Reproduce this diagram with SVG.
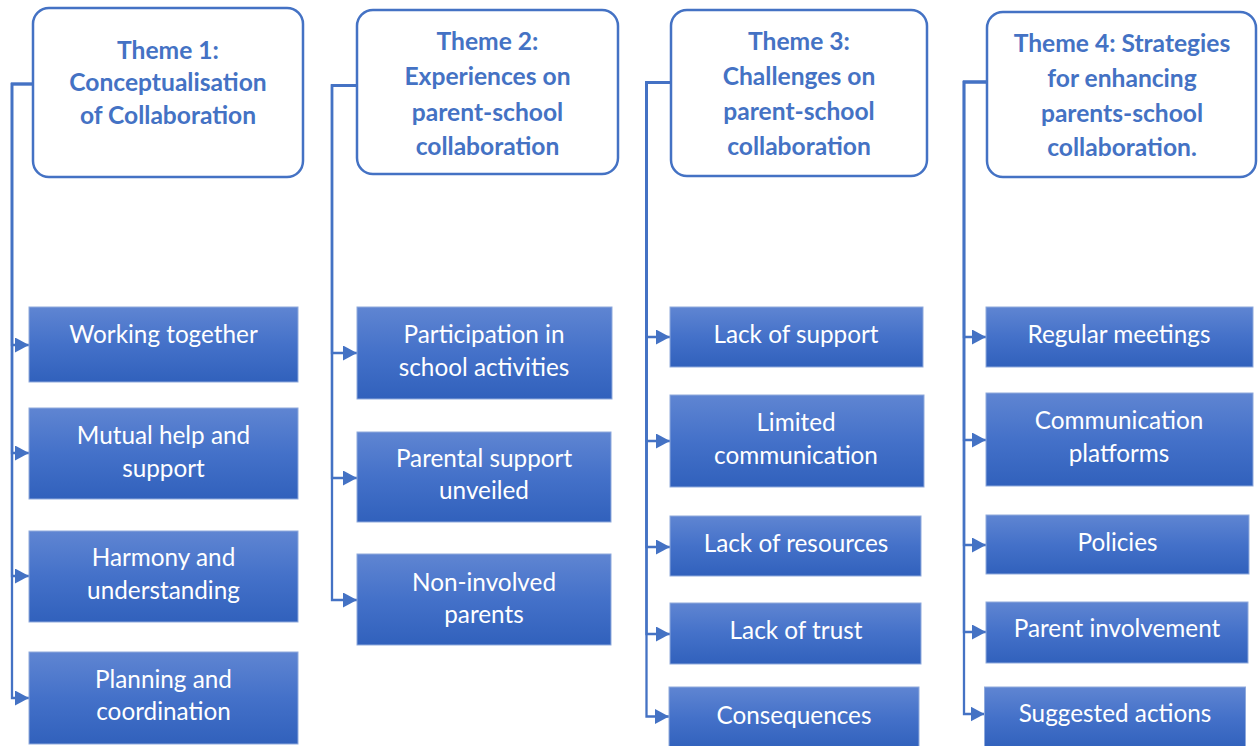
<svg xmlns="http://www.w3.org/2000/svg" width="1258" height="746" viewBox="0 0 1258 746">
  <style>
    .theme rect { fill: #ffffff; stroke: #4472c4; stroke-width: 2.5; }
    .theme text { font-family: Lato, "Liberation Sans", sans-serif; font-weight: bold; font-size: 24.6px; fill: #4472c4; text-anchor: middle; }
    .item rect { fill: url(#itemFill); stroke: #8faadc; stroke-width: 1; }
    .item text { font-family: Lato, "Liberation Sans", sans-serif; font-size: 24.3px; fill: #ffffff; text-anchor: middle; }
    #connectors path { fill: none; stroke: #4472c4; stroke-width: 2.3; marker-end: url(#arrow); }
  </style>
  <defs>
    <linearGradient id="itemFill" x1="0" y1="0" x2="0" y2="1">
      <stop offset="0" stop-color="#5f85d2"/>
      <stop offset="0.5" stop-color="#4471c9"/>
      <stop offset="1" stop-color="#3161bc"/>
    </linearGradient>
    <marker id="arrow" markerUnits="userSpaceOnUse" markerWidth="14" markerHeight="15" refX="14" refY="7.5" orient="auto">
      <path d="M0,0 L14,7.5 L0,15 Z" fill="#4472c4"/>
    </marker>
  </defs>

  <!-- connectors: header -> vertical spine -> each item -->
  <g id="connectors">
    <path d="M33,84 H12 V345 H29"/>
    <path d="M33,84 H12 V453 H29"/>
    <path d="M33,84 H12 V576 H29"/>
    <path d="M33,84 H12 V698 H29"/>

    <path d="M357,85.5 H332 V353 H357"/>
    <path d="M357,85.5 H332 V478 H357"/>
    <path d="M357,85.5 H332 V600 H357"/>

    <path d="M671,82.5 H646.5 V337 H670"/>
    <path d="M671,82.5 H646.5 V441 H670"/>
    <path d="M671,82.5 H646.5 V547 H670"/>
    <path d="M671,82.5 H646.5 V634 H670"/>
    <path d="M671,82.5 H646.5 V716.5 H669"/>

    <path d="M987,82 H964 V337 H986"/>
    <path d="M987,82 H964 V440 H986"/>
    <path d="M987,82 H964 V545 H986"/>
    <path d="M987,82 H964 V632 H986"/>
    <path d="M987,82 H964 V714 H984.5"/>
  </g>

  <!-- theme headers -->
  <g id="theme1" class="theme">
    <rect x="33" y="8" width="270" height="169" rx="16"/>
    <text x="168" y="59">Theme 1:</text>
    <text x="168" y="91">Conceptualisation</text>
    <text x="168" y="124">of Collaboration</text>
  </g>
  <g id="theme2" class="theme">
    <rect x="357" y="10" width="261" height="164" rx="16"/>
    <text x="487.5" y="50">Theme 2:</text>
    <text x="487.5" y="85">Experiences on</text>
    <text x="487.5" y="120.5">parent-school</text>
    <text x="487.5" y="155">collaboration</text>
  </g>
  <g id="theme3" class="theme">
    <rect x="671" y="10" width="256" height="166" rx="16"/>
    <text x="799" y="50">Theme 3:</text>
    <text x="799" y="85">Challenges on</text>
    <text x="799" y="120">parent-school</text>
    <text x="799" y="155">collaboration</text>
  </g>
  <g id="theme4" class="theme">
    <rect x="987" y="12" width="269" height="165" rx="16"/>
    <text x="1122" y="51.5">Theme 4: Strategies</text>
    <text x="1122" y="87">for enhancing</text>
    <text x="1122" y="121.5">parents-school</text>
    <text x="1122" y="156">collaboration.</text>
  </g>

  <!-- Theme 1 items -->
  <g id="t1-working" class="item">
    <rect x="29" y="307" width="269" height="75"/>
    <text x="163.5" y="343">Working together</text>
  </g>
  <g id="t1-mutual" class="item">
    <rect x="29" y="408" width="269" height="91"/>
    <text x="163.5" y="444">Mutual help and</text>
    <text x="163.5" y="476.5">support</text>
  </g>
  <g id="t1-harmony" class="item">
    <rect x="29" y="531" width="269" height="91"/>
    <text x="163.5" y="566">Harmony and</text>
    <text x="163.5" y="598.5">understanding</text>
  </g>
  <g id="t1-planning" class="item">
    <rect x="29" y="652" width="269" height="92"/>
    <text x="163.5" y="688">Planning and</text>
    <text x="163.5" y="720">coordination</text>
  </g>

  <!-- Theme 2 items -->
  <g id="t2-participation" class="item">
    <rect x="357" y="307" width="255" height="92"/>
    <text x="484" y="343">Participation in</text>
    <text x="484" y="376">school activities</text>
  </g>
  <g id="t2-support" class="item">
    <rect x="357" y="432" width="254" height="90"/>
    <text x="484" y="466.5">Parental support</text>
    <text x="484" y="499">unveiled</text>
  </g>
  <g id="t2-noninvolved" class="item">
    <rect x="357" y="554" width="254" height="91"/>
    <text x="484" y="591">Non-involved</text>
    <text x="484" y="623">parents</text>
  </g>

  <!-- Theme 3 items -->
  <g id="t3-support" class="item">
    <rect x="670" y="307" width="253" height="60"/>
    <text x="796" y="342.5">Lack of support</text>
  </g>
  <g id="t3-communication" class="item">
    <rect x="670" y="395" width="254" height="92"/>
    <text x="796" y="430.5">Limited</text>
    <text x="796" y="463.5">communication</text>
  </g>
  <g id="t3-resources" class="item">
    <rect x="670" y="516" width="251" height="60"/>
    <text x="796" y="551.5">Lack of resources</text>
  </g>
  <g id="t3-trust" class="item">
    <rect x="670" y="603" width="251" height="61"/>
    <text x="796" y="638.5">Lack of trust</text>
  </g>
  <g id="t3-consequences" class="item">
    <rect x="669" y="687" width="250" height="62"/>
    <text x="794" y="724">Consequences</text>
  </g>

  <!-- Theme 4 items -->
  <g id="t4-meetings" class="item">
    <rect x="986" y="307" width="267" height="60"/>
    <text x="1119" y="342.5">Regular meetings</text>
  </g>
  <g id="t4-platforms" class="item">
    <rect x="986" y="393" width="267" height="93"/>
    <text x="1119" y="428.5">Communication</text>
    <text x="1119" y="461.5">platforms</text>
  </g>
  <g id="t4-policies" class="item">
    <rect x="986" y="515" width="263" height="59"/>
    <text x="1117.5" y="550.5">Policies</text>
  </g>
  <g id="t4-involvement" class="item">
    <rect x="986" y="602" width="262" height="61"/>
    <text x="1117" y="636.5">Parent involvement</text>
  </g>
  <g id="t4-actions" class="item">
    <rect x="984.5" y="687" width="261" height="62"/>
    <text x="1115" y="721.5">Suggested actions</text>
  </g>
</svg>
